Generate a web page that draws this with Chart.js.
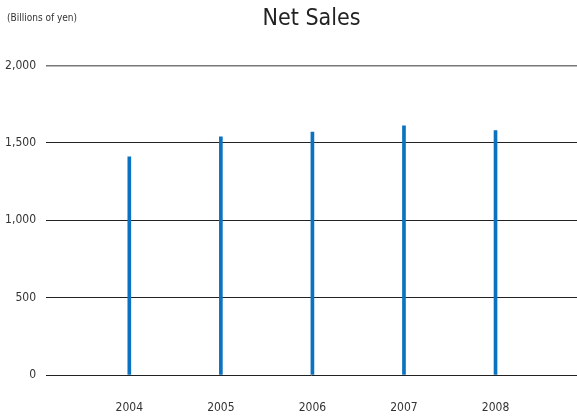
<!DOCTYPE html>
<html>
<head>
<meta charset="utf-8">
<script src="https://cdn.jsdelivr.net/npm/chart.js@4"></script>
<style>
  html, body { margin: 0; padding: 0; background: #fff; }
  #wrap { position: relative; width: 577px; height: 420px; }
  #unit {
    position: absolute; left: 7px; top: 12px;
    font-family: "DejaVu Sans Condensed", "Liberation Sans Narrow", sans-serif;
    font-size: 10px; color: #333;
  }
</style>
</head>
<body>
<div id="wrap">
  <canvas id="chart" width="577" height="420"></canvas>
  <div id="unit">(Billions of yen)</div>
</div>
<script>
// data
const years = [2004, 2005, 2006, 2007, 2008];
const netSales = [1410, 1540, 1570, 1610, 1580];
const yTicks = [0, 500, 1000, 1500, 2000];

const font = '"DejaVu Sans Condensed", "Liberation Sans Narrow", sans-serif';

const ctx = document.getElementById('chart');
const chart = new Chart(ctx, {
    type: 'bar',
    data: {
        datasets: [{
            label: 'Net Sales',
            data: years.map((y, i) => ({ x: y, y: netSales[i] })),
            backgroundColor: '#0a72c0',
            barThickness: 3
        }]
    },
    options: {
        responsive: false,
        animation: false,
        layout: { padding: 0 },
        plugins: {
            legend: { display: false },
            tooltip: { enabled: false },
            title: {
                display: true,
                text: 'Net Sales',
                fullSize: false,
                color: '#222',
                font: { family: font, size: 23, weight: 'normal' },
                padding: { top: 5, bottom: 33 }
            }
        },
        scales: {
            x: {
                type: 'linear',
                offset: false,
                min: 2003.09,
                max: 2008.89,
                afterBuildTicks: axis => { axis.ticks = years.map(v => ({ value: v })); },
                afterFit: s => { s.height = 45; },
                grid: { display: false },
                border: { display: false },
                ticks: {
                    padding: 18,
                    maxRotation: 0,
                    minRotation: 0,
                    color: '#333',
                    font: { family: font, size: 12 },
                    callback: v => String(v)
                }
            },
            y: {
                min: 0,
                max: 2000,
                afterBuildTicks: axis => { axis.ticks = yTicks.map(v => ({ value: v })); },
                afterFit: s => { s.width = 46; },
                grid: {
                    drawTicks: false,
                    color: c => c.tick && c.tick.value === 2000 ? '#777' : '#222',
                    lineWidth: c => c.tick && c.tick.value === 2000 ? 1.5 : 1
                },
                border: { display: false },
                ticks: {
                    padding: 10,
                    color: '#333',
                    font: { family: font, size: 12 },
                    callback: v => v.toLocaleString('en-US')
                }
            }
        }
    }
});
</script>
</body>
</html>
